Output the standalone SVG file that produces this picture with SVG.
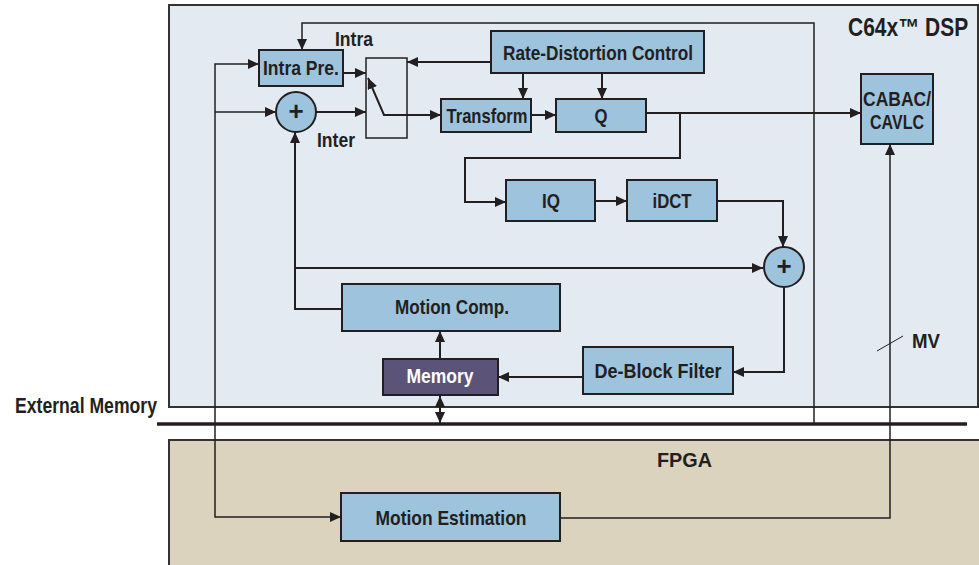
<svg xmlns="http://www.w3.org/2000/svg" width="979" height="565" viewBox="0 0 979 565">
<style>
.box{fill:#9dc3dd;stroke:#231f20;stroke-width:2}
.t{font-family:"Liberation Sans",Arial,sans-serif;font-weight:bold;fill:#231f20;text-anchor:middle;font-size:21px}
.l{text-anchor:start}
.c{fill:none;stroke:#231f20;stroke-width:2}
.thin{fill:none;stroke:#231f20;stroke-width:1.5}
</style>
<defs>
<marker id="a" markerUnits="userSpaceOnUse" markerWidth="12" markerHeight="10" refX="11" refY="5" orient="auto-start-reverse">
<path d="M0,0 L11,5 L0,10 z" fill="#231f20"/>
</marker>
</defs>
<rect width="979" height="565" fill="#fff"/>
<g id="dsp">
<rect x="169" y="5" width="809" height="402" fill="#e3eaf1" stroke="#333" stroke-width="2"/>
<text class="t l" transform="translate(848,36) scale(0.84,1)" x="0" y="0" style="font-size:25px">C64x™ DSP</text>
</g>
<g id="fpga">
<rect x="169" y="440" width="812" height="130" fill="#dbd3be" stroke="#333" stroke-width="2"/>
<text class="t l" x="657" y="467" style="font-size:21px" textLength="55" lengthAdjust="spacingAndGlyphs">FPGA</text>
</g>
<g id="external-memory">
<line x1="157" y1="424" x2="967" y2="424" stroke="#231f20" stroke-width="3.5"/>
<text class="t l" x="15" y="413" style="font-size:22px" textLength="142" lengthAdjust="spacingAndGlyphs">External Memory</text>
</g>
<g id="connectors">
<polyline class="thin" points="814,424 814,23 302,23 302,50" marker-end="url(#a)"/>
<polyline class="thin" points="259,64 215,64 215,517 341,517" marker-end="url(#a)" marker-start="url(#a)"/>
<line class="thin" x1="215" y1="112" x2="276" y2="112" marker-end="url(#a)"/>
<line class="c" x1="343" y1="73" x2="366" y2="73" marker-end="url(#a)"/>
<line class="c" x1="316" y1="112" x2="366" y2="112" marker-end="url(#a)"/>
<line class="c" x1="491" y1="62" x2="407" y2="62" marker-end="url(#a)"/>
<polyline class="c" points="441,115 384,115 368,78" marker-start="url(#a)" marker-end="url(#a)"/>
<line class="c" x1="523" y1="73" x2="523" y2="99" marker-end="url(#a)"/>
<line class="c" x1="602" y1="73" x2="602" y2="99" marker-end="url(#a)"/>
<line class="c" x1="531" y1="115" x2="556" y2="115" marker-end="url(#a)"/>
<line class="c" x1="646" y1="113" x2="861" y2="113" marker-end="url(#a)"/>
<polyline class="c" points="680,113 680,158 465,158 465,202 506,202" marker-end="url(#a)"/>
<line class="c" x1="595" y1="201" x2="627" y2="201" marker-end="url(#a)"/>
<polyline class="c" points="717,201 783,201 783,247" marker-end="url(#a)"/>
<polyline class="c" points="342,309 295,309 295,132" marker-end="url(#a)"/>
<line class="c" x1="295" y1="268" x2="763" y2="268" marker-end="url(#a)"/>
<polyline class="c" points="784,288 784,372 733,372" marker-end="url(#a)"/>
<line class="c" x1="583" y1="377" x2="498" y2="377" marker-end="url(#a)"/>
<line class="c" x1="440" y1="359" x2="440" y2="331" marker-end="url(#a)"/>
<line class="c" x1="440" y1="396" x2="440" y2="423" marker-start="url(#a)" marker-end="url(#a)"/>
<polyline class="thin" points="560,518 890,518 890,144" marker-end="url(#a)"/>
<line x1="877" y1="351" x2="903" y2="336" stroke="#231f20" stroke-width="1"/>
<text class="t l" x="912" y="348" textLength="28" lengthAdjust="spacingAndGlyphs">MV</text>
<text class="t l" x="335" y="46" textLength="38" lengthAdjust="spacingAndGlyphs">Intra</text>
<text class="t l" x="317" y="147" textLength="38" lengthAdjust="spacingAndGlyphs">Inter</text>
</g>
<g id="intra-pre"><rect class="box" x="259" y="50" width="84" height="36"/><text class="t" x="301" y="75" textLength="76" lengthAdjust="spacingAndGlyphs">Intra Pre.</text></g>
<g id="plus1"><circle class="box" cx="296" cy="112" r="20"/><text class="t" x="296" y="120" style="font-size:26px">+</text></g>
<g id="switch"><rect x="366" y="58" width="41" height="80" fill="none" stroke="#231f20" stroke-width="1.5"/></g>
<g id="rd-control"><rect class="box" x="491" y="31" width="213" height="42"/><text class="t" x="598" y="60" textLength="190" lengthAdjust="spacingAndGlyphs">Rate-Distortion Control</text></g>
<g id="transform"><rect class="box" x="441" y="99" width="90" height="33"/><text class="t" x="487" y="123" textLength="81" lengthAdjust="spacingAndGlyphs">Transform</text></g>
<g id="q"><rect class="box" x="556" y="99" width="90" height="33"/><text class="t" x="601" y="123" textLength="13" lengthAdjust="spacingAndGlyphs">Q</text></g>
<g id="cabac"><rect class="box" x="861" y="74" width="72" height="70"/><text class="t" x="897" y="106" textLength="68" lengthAdjust="spacingAndGlyphs">CABAC/</text><text class="t" x="897" y="129" textLength="54" lengthAdjust="spacingAndGlyphs">CAVLC</text></g>
<g id="iq"><rect class="box" x="506" y="180" width="89" height="41"/><text class="t" x="551" y="208" textLength="18" lengthAdjust="spacingAndGlyphs">IQ</text></g>
<g id="idct"><rect class="box" x="627" y="180" width="90" height="41"/><text class="t" x="672" y="208" textLength="39" lengthAdjust="spacingAndGlyphs">iDCT</text></g>
<g id="plus2"><circle class="box" cx="784" cy="267" r="20"/><text class="t" x="784" y="275" style="font-size:26px">+</text></g>
<g id="motion-comp"><rect class="box" x="342" y="284" width="218" height="47"/><text class="t" x="452" y="314" textLength="114" lengthAdjust="spacingAndGlyphs">Motion Comp.</text></g>
<g id="memory"><rect x="383" y="359" width="115" height="36" fill="#5b5478" stroke="#231f20" stroke-width="2"/><text class="t" x="440" y="383" style="fill:#fff" textLength="67" lengthAdjust="spacingAndGlyphs">Memory</text></g>
<g id="deblock"><rect class="box" x="583" y="347" width="150" height="47"/><text class="t" x="658" y="378" textLength="127" lengthAdjust="spacingAndGlyphs">De-Block Filter</text></g>
<g id="motion-est"><rect class="box" x="341" y="493" width="219" height="48"/><text class="t" x="451" y="525" textLength="151" lengthAdjust="spacingAndGlyphs">Motion Estimation</text></g>
</svg>
